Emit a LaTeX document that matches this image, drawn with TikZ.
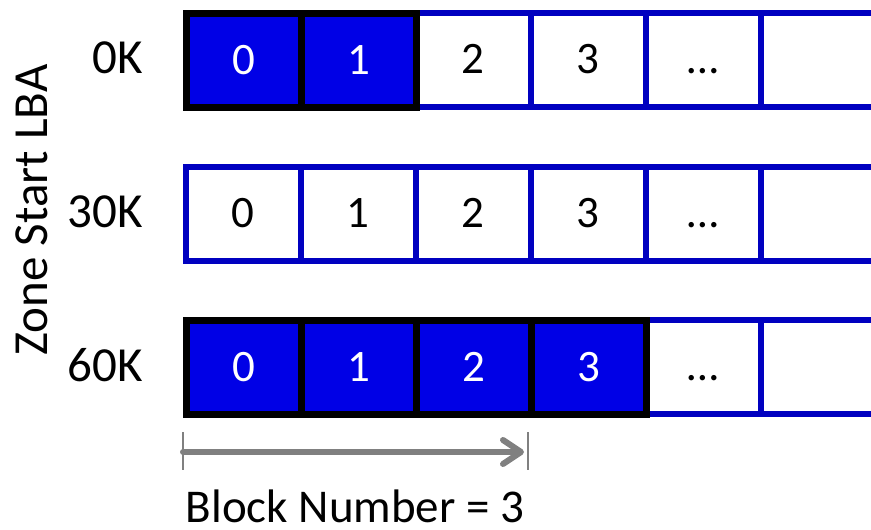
\documentclass[tikz,border=0pt]{standalone}
\usepackage{fontspec}
\setmainfont{Carlito}
\usetikzlibrary{arrows.meta}
\definecolor{cellfill}{RGB}{0,0,230}
\definecolor{cellblue}{RGB}{0,0,192}
\definecolor{arrowgray}{RGB}{128,128,128}
\begin{document}
\begin{tikzpicture}[x=1pt,y=-1pt,
  cell/.style={draw=cellblue, line width=5.5pt, minimum width=115pt, minimum height=94pt,
    inner sep=0pt, anchor=north west, text height=28pt, text depth=0pt,
    font=\fontsize{45}{48}\selectfont},
  lastcell/.style={cell, minimum width=140pt},
  oncell/.style={cell, fill=cellfill, draw=black, line width=6.5pt, text=white},
  lbl/.style={font=\fontsize{49}{52}\selectfont, inner sep=0pt},
  tickline/.style={draw=arrowgray, line width=2.5pt},
  arr/.style={draw=arrowgray, line width=6pt, line cap=round,
    -{Straight Barb[length=18pt,width=24pt,round]}}]
\useasboundingbox (0,0) rectangle (871,530);
% row 1 (0K)
\node[cell] (a2) at (413,10) {2};
\node[cell] (a3) at (528,10) {3};
\node[cell] (a4) at (643,10) {…};
\node[lastcell] (a5) at (758,10) {};
\node[oncell] (a0) at (183,10) {0};
\node[oncell] (a1) at (298,10) {1};
% row 2 (30K)
\node[cell] (b0) at (183,164) {0};
\node[cell] (b1) at (298,164) {1};
\node[cell] (b2) at (413,164) {2};
\node[cell] (b3) at (528,164) {3};
\node[cell] (b4) at (643,164) {…};
\node[lastcell] (b5) at (758,164) {};
% row 3 (60K)
\node[cell] (c4) at (643,317) {…};
\node[lastcell] (c5) at (758,317) {};
\node[oncell] (c0) at (183,317) {0};
\node[oncell] (c1) at (298,317) {1};
\node[oncell] (c2) at (413,317) {2};
\node[oncell] (c3) at (528,317) {3};
% labels
\node[lbl, anchor=base east] (l0) at (143,73) {0K};
\node[lbl, anchor=base east] (l30) at (143,227) {30K};
\node[lbl, anchor=base east] (l60) at (143,381) {60K};
\node[lbl, rotate=90, anchor=base] (zone) at (47,210) {Zone Start LBA};
% arrow
\coordinate (tst) at (183,432);
\coordinate (tsb) at (183,470);
\coordinate (tet) at (528,432);
\coordinate (teb) at (528,470);
\coordinate (as) at (183,452);
\coordinate (ae) at (524,452);
\draw[tickline] (tst) -- (tsb);
\draw[tickline] (tet) -- (teb);
\draw[arr] (as) -- (ae);
\node[font=\fontsize{47}{50}\selectfont, inner sep=0pt, anchor=base] (bn) at (355,522) {Block Number = 3};
\end{tikzpicture}
\end{document}
